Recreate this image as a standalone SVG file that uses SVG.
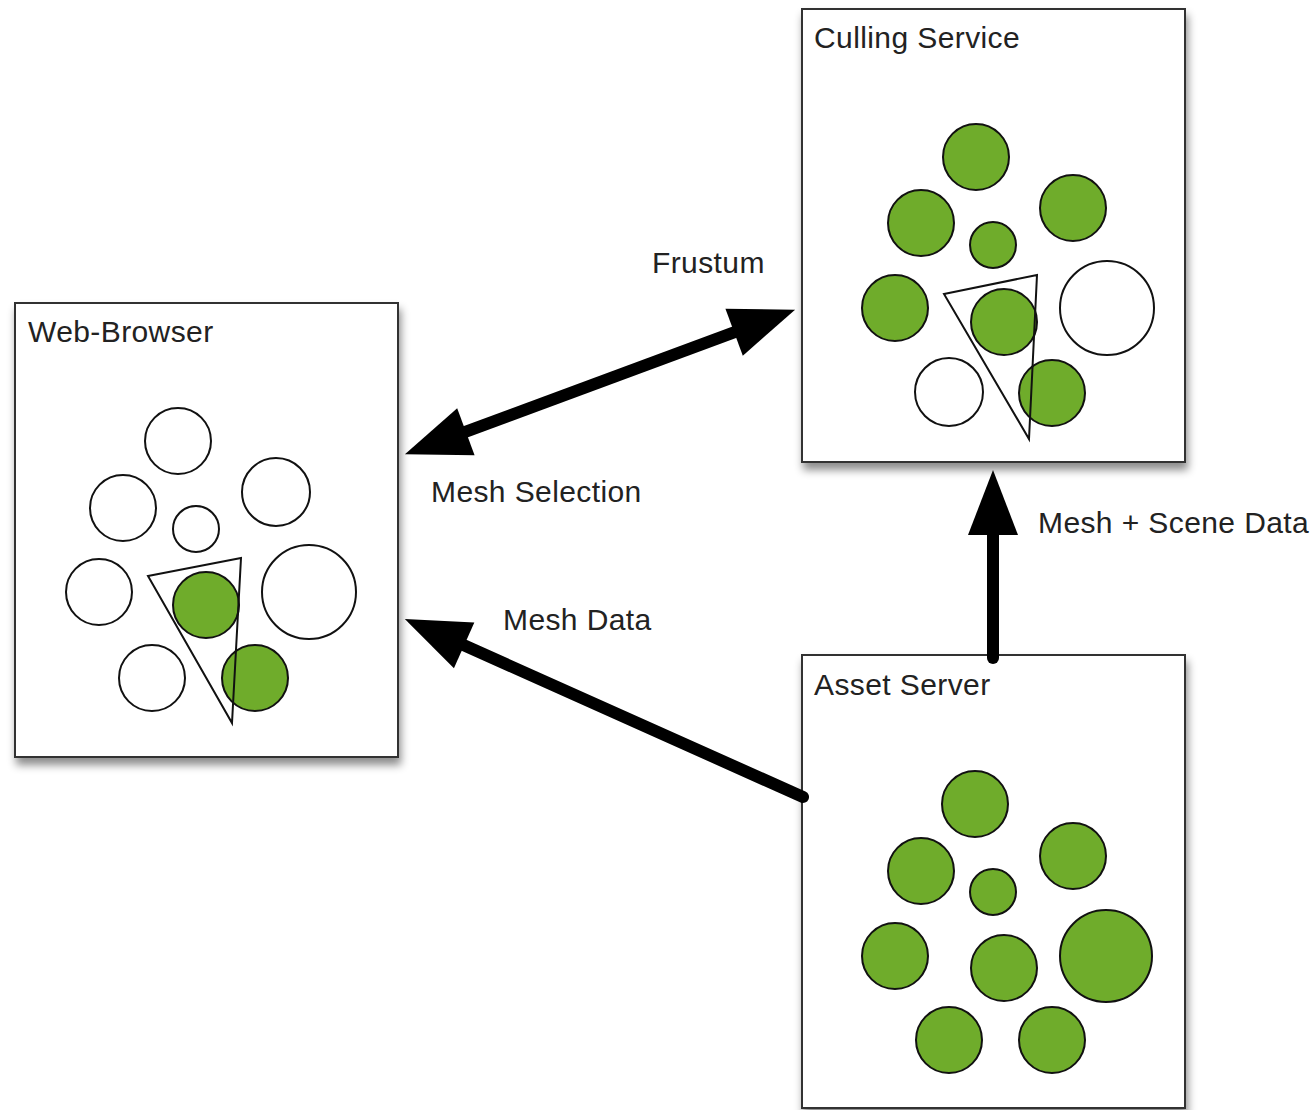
<svg xmlns="http://www.w3.org/2000/svg" width="1315" height="1110" viewBox="0 0 1315 1110">
<style>
.box{fill:#fff;stroke:#333;stroke-width:2;filter:url(#sh)}
.lbl{font-family:"Liberation Sans",Arial,sans-serif;font-size:30px;letter-spacing:0.4px;fill:#222}
.c{stroke:#111;stroke-width:2;fill:#fff}
.g{stroke:#111;stroke-width:2;fill:#6fac2b}
.tri{fill:none;stroke:#111;stroke-width:2}
.con{fill:none;stroke:#000;stroke-width:12}
</style>
<defs>
<filter id="sh" x="-10%" y="-10%" width="125%" height="125%">
<feDropShadow dx="2" dy="7" stdDeviation="4" flood-color="#000" flood-opacity="0.45"/>
</filter>
<marker id="ah" markerUnits="userSpaceOnUse" markerWidth="80" markerHeight="60" refX="2" refY="0" viewBox="0 -30 80 60" orient="auto-start-reverse" overflow="visible">
<path d="M0,-25 L65,0 L0,25 z" fill="#000"/>
</marker>
</defs>
<rect width="1315" height="1110" fill="#fff"/>

<g id="web-browser">
<rect class="box" x="15" y="303" width="383" height="454"/>
<text class="lbl" x="28" y="342">Web-Browser</text>
<circle class="c" cx="178" cy="441" r="33"/>
<circle class="c" cx="123" cy="508" r="33"/>
<circle class="c" cx="196" cy="529" r="23"/>
<circle class="c" cx="276" cy="492" r="34"/>
<circle class="c" cx="99" cy="592" r="33"/>
<circle class="c" cx="309" cy="592" r="47"/>
<circle class="c" cx="152" cy="678" r="33"/>
<circle class="g" cx="206" cy="605" r="33"/>
<circle class="g" cx="255" cy="678" r="33"/>
<polygon class="tri" points="148,576 241,558 232,723"/>
</g>

<g id="culling-service">
<rect class="box" x="802" y="9" width="383" height="453"/>
<text class="lbl" x="814" y="48">Culling Service</text>
<circle class="g" cx="976" cy="157" r="33"/>
<circle class="g" cx="921" cy="223" r="33"/>
<circle class="g" cx="1073" cy="208" r="33"/>
<circle class="g" cx="993" cy="245" r="23"/>
<circle class="g" cx="895" cy="308" r="33"/>
<circle class="g" cx="1004" cy="322" r="33"/>
<circle class="c" cx="1107" cy="308" r="47"/>
<circle class="c" cx="949" cy="392" r="34"/>
<circle class="g" cx="1052" cy="393" r="33"/>
<polygon class="tri" points="944,294 1037,275 1029,439"/>
</g>

<g id="asset-server">
<rect class="box" x="802" y="655" width="383" height="453"/>
<text class="lbl" x="814" y="695">Asset Server</text>
<circle class="g" cx="975" cy="804" r="33"/>
<circle class="g" cx="921" cy="871" r="33"/>
<circle class="g" cx="1073" cy="856" r="33"/>
<circle class="g" cx="993" cy="892" r="23"/>
<circle class="g" cx="895" cy="956" r="33"/>
<circle class="g" cx="1004" cy="968" r="33"/>
<circle class="g" cx="1106" cy="956" r="46"/>
<circle class="g" cx="949" cy="1040" r="33"/>
<circle class="g" cx="1052" cy="1040" r="33"/>
</g>

<g id="connectors">
<path class="con" d="M464,432.4 L736,331.6" marker-start="url(#ah)" marker-end="url(#ah)"/>
<path class="con" d="M803,797 L462.3,644.6" stroke-linecap="round" marker-end="url(#ah)"/>
<path class="con" d="M993,658 L993,533" stroke-linecap="round" marker-end="url(#ah)"/>
<text class="lbl" x="652" y="273">Frustum</text>
<text class="lbl" x="431" y="502">Mesh Selection</text>
<text class="lbl" x="503" y="630">Mesh Data</text>
<text class="lbl" x="1038" y="533">Mesh + Scene Data</text>
</g>
</svg>
